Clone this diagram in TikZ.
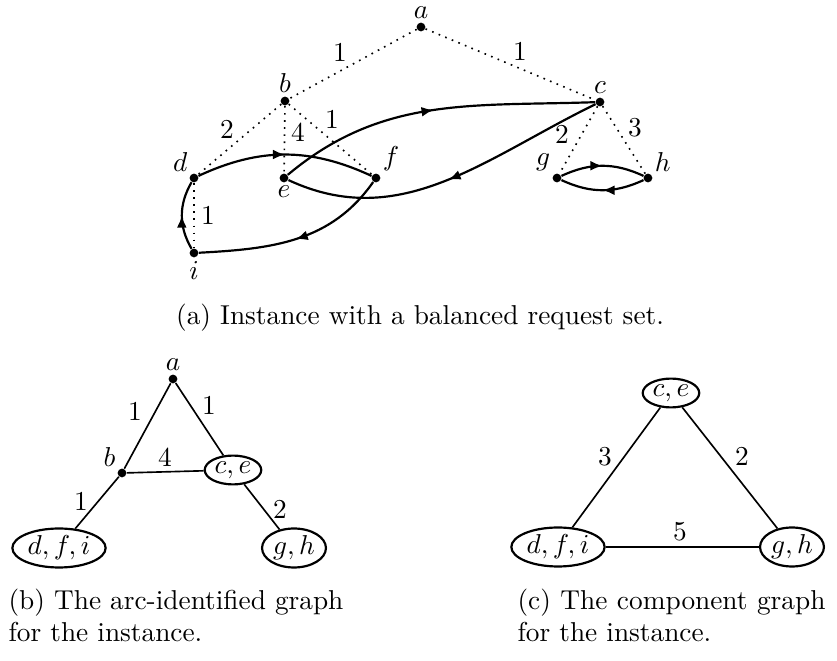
\documentclass[tikz,border=0pt]{standalone}
\usetikzlibrary{arrows.meta,shapes.geometric,decorations.markings}
\tikzset{
  vtx/.style={circle,fill,inner sep=0pt,minimum size=3.2pt},
  comp/.style={ellipse,draw,thick,inner sep=0.6pt},
  req/.style={dotted,semithick},
  edg/.style={semithick},
  wt/.style={inner sep=0pt},
  captxt/.style={anchor=west,align=left,inner sep=0pt},
  arc/.style={thick,postaction={decorate},
    decoration={markings,mark=at position 0.5 with {\arrow{Latex[length=4.4pt,width=3.6pt]}}}},
}
\begin{document}
\begin{tikzpicture}[x=0.366pt,y=0.366pt,every label/.append style={inner sep=1pt}]
    \useasboundingbox (0,0) rectangle (837,-661);
    % (a) the instance
    \node[vtx,label=above:$a$] (a) at (421,-27) {};
    \node[vtx,label=above:$b$] (b) at (285,-101) {};
    \node[vtx,label=above:$c$] (c) at (600,-102) {};
    \node[vtx,label=above left:$d$] (d) at (194,-178) {};
    \node[vtx,label=below:$e$] (e) at (284,-178) {};
    \node[vtx,label=above right:$f$] (f) at (376,-178) {};
    \node[vtx,label=above left:$g$] (g) at (557,-178) {};
    \node[vtx,label=above right:$h$] (h) at (648,-178) {};
    \node[vtx,label=below:$i$] (i) at (194,-253) {};
    \draw[req] (a)--(b); \node[wt] (wab) at (340,-53) {$1$};
    \draw[req] (a)--(c); \node[wt] (wac) at (520,-52) {$1$};
    \draw[req] (b)--(d); \node[wt] (wbd) at (227,-130) {$2$};
    \draw[req] (b)--(e); \node[wt] (wbe) at (298,-133) {$4$};
    \draw[req] (b)--(f); \node[wt] (wbf) at (332,-120) {$1$};
    \draw[req] (d)--(i); \node[wt] (wdi) at (208,-216) {$1$};
    \draw[req] (c)--(g); \node[wt] (wcg) at (562,-135) {$2$};
    \draw[req] (c)--(h); \node[wt] (wch) at (635,-128) {$3$};
    \draw[arc] (d) to[bend left=25] (f);
    \draw[arc] (e) to[out=40,in=182] (c);
    \draw[arc] (c) to[out=206,in=-25] (e);
    \draw[arc] (f) to[out=235,in=3] (i);
    \draw[arc] (i) to[bend left=30] (d);
    \draw[arc] (g) to[bend left=25] (h);
    \draw[arc] (h) to[bend left=25] (g);
    \node (capa) at (420,-318) {(a) Instance with a balanced request set.};
    % (b) the arc-identified graph
    \node[vtx,label=above:$a$] (ba) at (173,-379) {};
    \node[vtx,label=above left:$b$] (bb) at (122,-473) {};
    \node[comp] (bce) at (233,-470) {$c,e$};
    \node[comp] (bdfi) at (59,-548) {$d,f,i$};
    \node[comp] (bgh) at (294,-548) {$g,h$};
    \draw[edg] (ba)--(bb); \node[wt] (wba) at (135,-412) {$1$};
    \draw[edg] (ba)--(bce); \node[wt] (wbb) at (209,-406) {$1$};
    \draw[edg] (bb)--(bce); \node[wt] (wbc) at (165,-458) {$4$};
    \draw[edg] (bb)--(bdfi); \node[wt] (wbd) at (81,-502) {$1$};
    \draw[edg] (bce)--(bgh); \node[wt] (wbe) at (280,-510) {$2$};
    \node[captxt] (capb) at (8,-615.5) {(b) The arc-identified graph\\for the instance.};
    % (c) the component graph
    \node[comp] (cce) at (671,-393) {$c,e$};
    \node[comp] (cdfi) at (558,-547) {$d,f,i$};
    \node[comp] (cgh) at (792,-547) {$g,h$};
    \draw[edg] (cce)--(cdfi); \node[wt] (wca) at (605,-457) {$3$};
    \draw[edg] (cce)--(cgh); \node[wt] (wcb) at (742,-457) {$2$};
    \draw[edg] (cdfi)--(cgh); \node[wt] (wcc) at (680,-532) {$5$};
    \node[captxt] (capc) at (517,-615.5) {\makebox[112.7pt][s]{(c) The component graph}\\for the instance.};
  \end{tikzpicture}
\end{document}
